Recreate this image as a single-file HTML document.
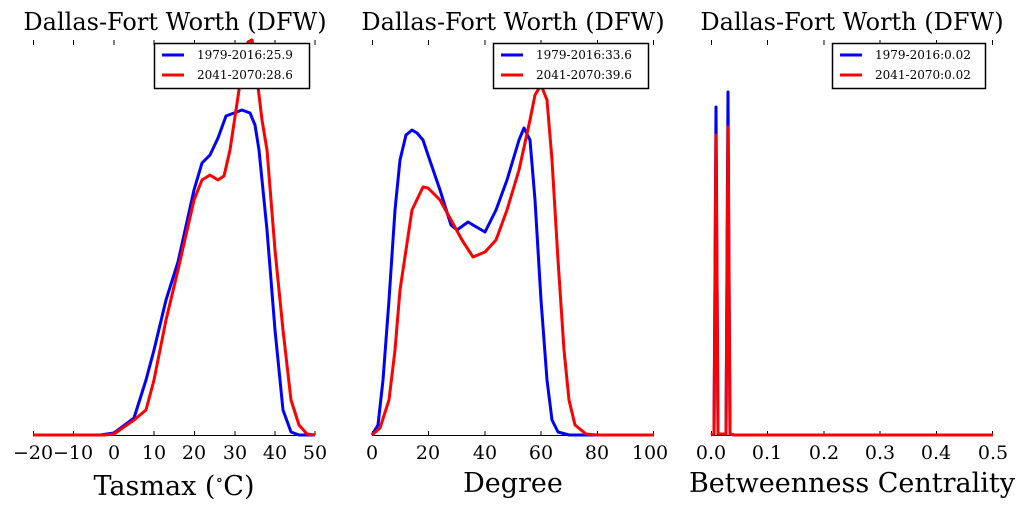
<!DOCTYPE html>
<html><head><style>body{margin:0;background:#fff}svg{display:block}text{font-family:"DejaVu Serif","Liberation Serif",serif}</style></head>
<body>
<svg width="1024" height="512" viewBox="0 0 1024 512">
<g stroke="#000" stroke-width="1" fill="none">
<line x1="33" y1="435.5" x2="315" y2="435.5"/>
<line x1="372" y1="435.5" x2="654" y2="435.5"/>
<line x1="711" y1="435.5" x2="993" y2="435.5"/>
</g>
<g stroke="#000" stroke-width="1">
<path d="M33.5 40v5M73.5 40v5M114 40v5M154 40v5M194.5 40v5M235 40v5M275 40v5M315 40v5
M33.5 431v4M73.5 431v4M114 431v4M154 431v4M194.5 431v4M235 431v4M275 431v4M315 431v4
M372.5 40v5M428.5 40v5M485 40v5M541 40v5M597.5 40v5M653.5 40v5
M372.5 431v4M428.5 431v4M485 431v4M541 431v4M597.5 431v4M653.5 431v4
M711.5 40v5M767.5 40v5M824 40v5M880 40v5M936.5 40v5M992.5 40v5
M711.5 431v4M767.5 431v4M824 431v4M880 431v4M936.5 431v4M992.5 431v4"/>
</g>
<g font-size="24" text-anchor="middle">
<text x="175" y="30">Dallas-Fort Worth (DFW)</text>
<text x="513" y="30">Dallas-Fort Worth (DFW)</text>
<text x="852" y="30">Dallas-Fort Worth (DFW)</text>
</g>
<g font-size="19" text-anchor="middle">
<text x="33" y="459">−20</text><text x="73" y="459">−10</text><text x="114" y="459">0</text><text x="154" y="459">10</text><text x="194" y="459">20</text><text x="235" y="459">30</text><text x="275" y="459">40</text><text x="315" y="459">50</text>
<text x="372" y="459">0</text><text x="428" y="459">20</text><text x="485" y="459">40</text><text x="541" y="459">60</text><text x="597" y="459">80</text><text x="650" y="459">100</text>
<text x="711" y="459">0.0</text><text x="767" y="459">0.1</text><text x="824" y="459">0.2</text><text x="880" y="459">0.3</text><text x="936" y="459">0.4</text><text x="993" y="459">0.5</text>
</g>
<g font-size="27" text-anchor="middle">
<text x="174" y="495">Tasmax (<tspan font-size="16" dy="-10">∘</tspan><tspan dy="10">C)</tspan></text>
<text x="513" y="492">Degree</text>
<text x="852" y="492">Betweenness Centrality</text>
</g>
<g fill="none" stroke-width="3" stroke-linejoin="round">
<polyline stroke="#00f" points="33,435 100,435 114,433 134,418 146,380 154,350 166,300 178,262 194,190 202,163 210,155 218,138 226,116 234,113 242,110 250,113 255,125 259,150 267,230 275,330 283,410 291,432 299,435 315,435"/>
<polyline stroke="#f00" points="33,435 105,435 114,434 134,420 146,410 154,380 166,320 178,270 194,200 202,180 210,175 218,180 224,176 230,150 236,110 242,70 248,42 252,40 256,70 262,120 267,150 275,250 283,330 291,400 299,425 307,434 315,435"/>
<polyline stroke="#00f" points="372,435 378,425 383,380 389,300 395,210 400,160 406,135 412,130 417,133 423,140 428,155 440,190 451,225 457,230 468,222 473,225 485,232 496,210 507,180 519,140 524,128 530,140 535,200 541,300 547,380 552,420 558,432 569,435 654,435"/>
<polyline stroke="#f00" points="372,435 380,428 389,400 395,350 400,290 412,210 423,187 428,188 440,200 451,220 462,240 473,257 485,252 496,240 507,210 519,170 530,120 535,95 541,85 547,100 552,160 558,260 564,350 569,400 575,425 586,434 597,435 654,435"/>
<polyline stroke="#00f" points="711,435 714,434 716,107 718,434 726,434 728,92 730,434 734,435 993,435"/>
<polyline stroke="#f00" points="711,435 714,434 716,135 718,434 726,434 728,127 730,434 734,435 993,435"/>
</g>
<g font-size="12">
<rect x="154.5" y="43.5" width="155" height="45" fill="#fff" stroke="#000" stroke-width="1.5"/>
<line x1="162" y1="55" x2="184" y2="55" stroke="#00f" stroke-width="3"/><text x="197" y="59">1979-2016:25.9</text>
<line x1="162" y1="75" x2="184" y2="75" stroke="#f00" stroke-width="3"/><text x="197" y="79">2041-2070:28.6</text>
<rect x="493.5" y="43.5" width="155" height="45" fill="#fff" stroke="#000" stroke-width="1.5"/>
<line x1="501" y1="55" x2="523" y2="55" stroke="#00f" stroke-width="3"/><text x="536" y="59">1979-2016:33.6</text>
<line x1="501" y1="75" x2="523" y2="75" stroke="#f00" stroke-width="3"/><text x="536" y="79">2041-2070:39.6</text>
<rect x="832.5" y="43.5" width="153" height="45" fill="#fff" stroke="#000" stroke-width="1.5"/>
<line x1="840" y1="55" x2="862" y2="55" stroke="#00f" stroke-width="3"/><text x="875" y="59">1979-2016:0.02</text>
<line x1="840" y1="75" x2="862" y2="75" stroke="#f00" stroke-width="3"/><text x="875" y="79">2041-2070:0.02</text>
</g>
</svg>
</body></html>
